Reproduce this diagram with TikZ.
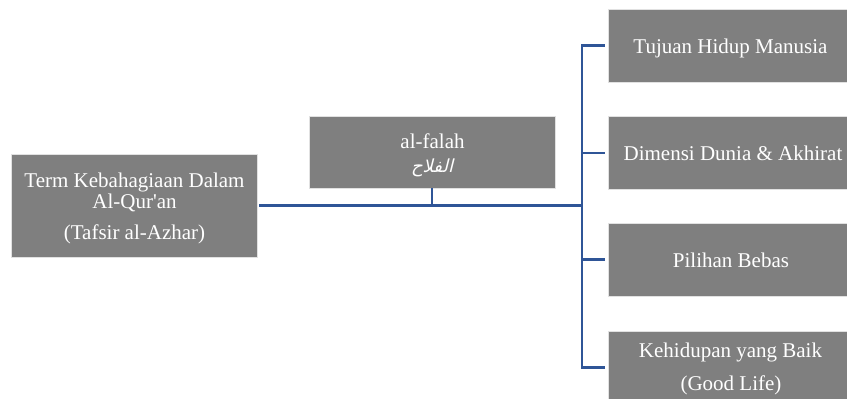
\documentclass[tikz,border=0pt]{standalone}
\usepackage{fontspec}
\setmainfont{Liberation Serif}
\newfontfamily\arabicfont[Script=Arabic,FakeSlant=0.25]{DejaVu Sans}
\TeXXeTstate=1
\definecolor{boxgray}{RGB}{127,127,127}
\definecolor{boxedge}{RGB}{225,225,225}
\definecolor{linkblue}{RGB}{47,85,151}
\begin{document}
\begin{tikzpicture}[x=1pt,y=-1pt,
  box/.style={draw=boxedge, line width=0.8pt, fill=boxgray, minimum width=246pt, minimum height=73pt, inner sep=0pt, anchor=center},
  lbl/.style={text=white, font=\fontsize{21}{24}\selectfont, anchor=base, inner sep=0pt},
  arlbl/.style={text=white, font=\arabicfont\fontsize{18}{21}\selectfont, anchor=base, inner sep=0pt},
  link/.style={draw=linkblue, line width=2.6pt, line join=miter}]
\useasboundingbox (0,0) rectangle (847,399);
\begin{scope}
\clip (0,0) rectangle (847,399);
% boxes
\node[box, minimum height=103pt] (root) at (134,205.5) {};
\node[box, minimum height=72pt] (falah) at (432,152) {};
\node[box] (r1) at (731,45.5) {};
\node[box] (r2) at (731,153) {};
\node[box] (r3) at (731,259.5) {};
\node[box] (r4) at (731,367.5) {};
% texts
\node[lbl] (t0a) at (134.5,187) {Term Kebahagiaan Dalam};
\node[lbl] (t0b) at (134.5,208) {Al-Qur\textquotesingle an};
\node[lbl] (t0c) at (134.5,239) {(Tafsir al-Azhar)};
\node[lbl] (tf1) at (432.5,148) {al-falah};
\node[arlbl] (tf2) at (432,172) {\beginR الفلاح\endR};
\node[lbl] (t1) at (730.5,53) {Tujuan Hidup Manusia};
\node[lbl] (t2) at (733,160) {Dimensi Dunia \& Akhirat};
\node[lbl] (t3) at (731,267) {Pilihan Bebas};
\node[lbl] (t4a) at (730.5,357) {Kehidupan yang Baik};
\node[lbl] (t4b) at (731,390) {(Good Life)};
% connectors
\coordinate (hub) at (582,205.5);
\draw[link] ([xshift=2pt]root.east) -- (hub);
\draw[link] (falah.south) -- (falah.south |- hub);
\draw[link] ([xshift=-3pt]r1.west) -- (r1.west -| hub) -- (r4.west -| hub) -- ([xshift=-3pt]r4.west);
\draw[link] (r2.west -| hub) -- ([xshift=-3pt]r2.west);
\draw[link] (r3.west -| hub) -- ([xshift=-3pt]r3.west);
\end{scope}
\end{tikzpicture}
\end{document}
